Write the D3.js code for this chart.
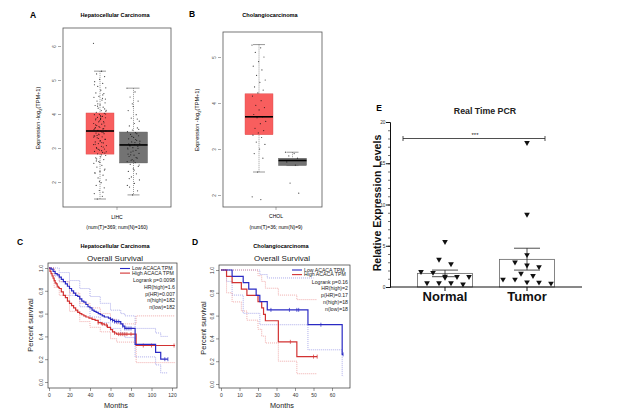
<!DOCTYPE html>
<html>
<head>
<meta charset="utf-8">
<script src="https://cdn.jsdelivr.net/npm/d3@7"></script>
<style>
  body { margin: 0; background: #fff; }
  svg { display: block; }
  svg text { font-family: "Liberation Sans", Arial, sans-serif; }
</style>
</head>
<body>
<svg id="fig" width="631" height="414"></svg>
<script>
/*** DATA ***/

// A / B : GEPIA box plots (tumor vs normal)
const boxGroups = ["Tumor", "Normal"];

const aQ1 = [2.82, 2.56];
const aMed = [3.5, 3.09];
const aQ3 = [4.03, 3.47];
const aLo = [1.5, 1.62];
const aHi = [5.26, 4.76];
const aTicks = [2, 3, 4, 5, 6];
const aTumorPts = [6.08, 5.26, 5.18, 5.1, 5.02, 4.95, 4.9, 4.81, 4.77, 4.7, 4.62, 4.6, 4.52, 4.49, 4.41, 4.38, 4.33, 4.27, 4.25, 4.2,
  4.17, 4.11, 4.1, 4.05, 4.02, 3.99, 3.98, 3.93, 3.9, 3.89, 3.84, 3.83, 3.78, 3.77, 3.72, 3.7, 3.66, 3.65, 3.61, 3.58,
  3.56, 3.52, 3.5, 3.49, 3.44, 3.42, 3.39, 3.36, 3.33, 3.3, 3.25, 3.22, 3.18, 3.15, 3.13, 3.07, 3.05, 3.01, 2.97, 2.94,
  2.9, 2.87, 2.83, 2.78, 2.74, 2.71, 2.66, 2.6, 2.55, 2.49, 2.44, 2.38, 2.31, 2.25, 2.2, 2.12, 2.06, 1.98, 1.9, 1.83,
  1.75, 1.66, 1.58, 1.5, 4.44, 3.95, 3.6, 3.47, 3.28, 3.1, 2.92, 2.68, 4.15, 3.8, 3.35,
  4.56, 4.3, 4.08, 3.92, 3.86, 3.74, 3.63, 3.54, 3.46, 3.37, 3.26, 3.2, 3.11, 3.03, 2.96, 2.89, 2.8, 2.62, 2.35, 2.02,
  4.86, 4.46, 4.23, 4.0, 3.87, 3.68, 3.57, 3.41, 3.32, 3.16, 2.99, 2.85, 2.58, 2.28, 1.7];
const aNormalPts = [4.76, 4.65, 4.5, 4.38, 4.22, 4.1, 3.98, 3.88, 3.79, 3.72, 3.65, 3.59, 3.53, 3.48, 3.45, 3.4, 3.36, 3.31, 3.27, 3.22,
  3.18, 3.14, 3.1, 3.08, 3.05, 3.01, 2.97, 2.93, 2.88, 2.84, 2.79, 2.75, 2.7, 2.66, 2.6, 2.57, 2.52, 2.46, 2.39, 2.31,
  2.24, 2.15, 2.06, 1.96, 1.85, 1.74, 1.62, 3.0, 3.25, 2.8, 3.55, 2.62, 3.12,
  3.42, 3.34, 3.2, 3.16, 3.06, 2.99, 2.91, 2.82, 2.72, 2.64, 2.5, 2.35, 2.1, 3.85, 4.3, 1.9];

const bQ1 = [3.31, 2.64];
const bMed = [3.7, 2.75];
const bQ3 = [4.2, 2.8];
const bLo = [2.5, 2.64];
const bHi = [5.27, 2.93];
const bTicks = [2, 3, 4, 5];
const bTumorPts = [5.26, 5.2, 5.1, 5.0, 4.9, 4.8, 4.72, 4.6, 4.5, 4.45, 4.35, 4.28, 4.22, 4.15, 4.05, 3.95, 3.9, 3.85,
  3.75, 3.7, 3.68, 3.6, 3.55, 3.45, 3.4, 3.35, 3.3, 3.25, 3.15, 3.1, 3.0, 2.9, 2.8, 2.5, 1.96, 1.9];
const bNormalPts = [2.93, 2.9, 2.85, 2.8, 2.75, 2.72, 2.65, 2.26, 2.04];

// C : Kaplan-Meier, hepatocellular carcinoma  [month, survival]
const cLow = [[0, 1], [2, 0.99], [4, 0.97], [6, 0.95], [8, 0.94], [10, 0.92], [12, 0.9], [14, 0.88], [16, 0.86], [18, 0.84],
  [20, 0.82], [22, 0.8], [24, 0.78], [26, 0.76], [28, 0.75], [30, 0.73], [32, 0.71], [34, 0.7], [36, 0.68], [38, 0.66],
  [40, 0.65], [42, 0.63], [44, 0.62], [46, 0.61], [48, 0.6], [50, 0.59], [52, 0.58], [54, 0.57], [58, 0.56], [60, 0.55],
  [62, 0.54], [64, 0.53], [68, 0.53], [70, 0.51], [72, 0.49], [74, 0.47], [84, 0.33], [104, 0.26], [109, 0.2], [116, 0.2]];
const cHigh = [[0, 1], [1, 0.97], [2, 0.95], [3, 0.93], [4, 0.91], [5, 0.89], [6, 0.87], [7, 0.86], [8, 0.84], [9, 0.83],
  [10, 0.82], [12, 0.79], [14, 0.76], [16, 0.74], [18, 0.71], [20, 0.69], [22, 0.67], [24, 0.65], [26, 0.63], [28, 0.61],
  [30, 0.6], [32, 0.59], [34, 0.58], [36, 0.57], [39, 0.56], [42, 0.55], [45, 0.54], [48, 0.52], [51, 0.51], [54, 0.5],
  [57, 0.48], [60, 0.46], [62, 0.44], [64, 0.43], [66, 0.42], [85, 0.32], [123, 0.32]];
const cLowUp = [[0, 1], [5, 1], [10, 0.96], [20, 0.89], [30, 0.82], [40, 0.75], [50, 0.69], [60, 0.63], [70, 0.6],
  [74, 0.58], [84, 0.47], [104, 0.43], [109, 0.4], [116, 0.4]];
const cLowDn = [[0, 1], [5, 0.93], [10, 0.88], [20, 0.76], [30, 0.66], [40, 0.57], [50, 0.52], [60, 0.47], [70, 0.43],
  [74, 0.39], [84, 0.22], [104, 0.15], [109, 0.08], [116, 0.08]];
const cHighUp = [[0, 1], [5, 0.95], [10, 0.88], [20, 0.78], [30, 0.69], [40, 0.65], [50, 0.6], [60, 0.55], [66, 0.51],
  [85, 0.58], [123, 0.58]];
const cHighDn = [[0, 1], [5, 0.83], [10, 0.76], [20, 0.62], [30, 0.53], [40, 0.48], [50, 0.44], [60, 0.38], [66, 0.35],
  [85, 0.17], [123, 0.17]];
const cLowCens = [60, 62, 64, 66, 68, 72, 74, 76, 78, 80, 113, 116];
const cHighCens = [48, 52, 56, 64, 68, 70, 72, 74, 76, 80, 92, 100, 122];
const cStats = ["Logrank p=0.0098", "HR(high)=1.6", "p(HR)=0.007", "n(high)=182", "n(low)=182"];

// D : Kaplan-Meier, cholangiocarcinoma
const dLow = [[0, 1], [6, 0.944], [12, 0.889], [15, 0.833], [19, 0.778], [21, 0.722], [25, 0.65], [47, 0.52], [65.5, 0.26], [66, 0.26]];
const dHigh = [[0, 1], [3, 0.944], [6, 0.889], [11, 0.833], [14, 0.778], [20, 0.722], [22, 0.667], [23, 0.611], [24, 0.555],
  [31, 0.37], [41, 0.24], [52, 0.24]];
const dLowUp = [[0, 1], [19, 1], [21, 0.96], [25, 0.93], [50, 0.93]];
const dLowDn = [[0, 1], [3, 0.9], [6, 0.78], [12, 0.62], [21, 0.52], [47, 0.3], [65.5, 0.07], [66, 0.07]];
const dHighUp = [[0, 1], [14, 1], [20, 0.95], [22, 0.9], [24, 0.84], [31, 0.78], [41, 0.74], [52, 0.74]];
const dHighDn = [[0, 1], [3, 0.8], [6, 0.72], [11, 0.64], [14, 0.56], [20, 0.48], [22, 0.42], [24, 0.36], [31, 0.2],
  [41, 0.09], [52, 0.09]];
const dLowCens = [27, 37, 41, 42, 54, 66];
const dHighCens = [37.5, 50, 52];
const dStats = ["Logrank p=0.16", "HR(high)=2", "p(HR)=0.17", "n(high)=18", "n(low)=18"];

const survLegend = ["Low ACACA TPM", "High ACACA TPM"];

// E : real time PCR
const pcrGroups = ["Normal", "Tumor"];
const pcrNormal = [5.5, 3.35, 2.8, 1.85, 1.75, 1.3, 1.25, 1.25, 1.15, 0.5, 0.5, 0.5, 0.35];
const pcrTumor = [17.5, 8.8, 3.9, 3.0, 2.65, 2.45, 1.65, 1.37, 0.93, 0.93, 0.6, 0.57, 0.45];
const pcrMean = [1.65, 3.35];
const pcrErrLo = [1.25, 2.05];
const pcrErrHi = [2.05, 4.7];
const pcrTicks = [0, 5, 10, 15, 20];
const pcrSig = 18;


/*** DRAWING ***/
const svg = d3.select("#fig");
const BLUE = "#2a2ac4", RED = "#d23232";

function txt(s, x, y, size, o) {
  o = o || {};
  const t = svg.append("text")
    .attr("x", x).attr("y", y)
    .attr("font-size", size)
    .attr("text-anchor", o.anchor || "middle")
    .attr("fill", o.fill || "#000")
    .text(s);
  if (o.bold) t.attr("font-weight", "bold");
  if (o.rot) t.attr("transform", "rotate(-90," + x + "," + y + ")");
  return t;
}

// y label with subscript 2 (log2)
function exprLabel(x, y) {
  const t = svg.append("text").attr("font-size", 5.6).attr("text-anchor", "middle")
    .attr("transform", "translate(" + x + "," + y + ") rotate(-90)");
  t.append("tspan").text("Expression -log");
  t.append("tspan").attr("font-size", 4).attr("dy", 1.5).text("2");
  t.append("tspan").attr("dy", -1.5).text("(TPM+1)");
}

// panel letters
txt("A", 33, 18, 8.5, { bold: true });
txt("B", 192, 17, 8.5, { bold: true });
txt("C", 20, 245, 8.5, { bold: true });
txt("D", 195, 245, 8.5, { bold: true });
txt("E", 379, 111, 8.5, { bold: true });

/*** box plot panels ***/
function boxPanel(c) {
  const y = d3.scaleLinear().domain(c.ydom).range(c.yrng);
  const x = d3.scalePoint().domain(boxGroups).range(c.xrng);
  const g = svg.append("g");

  g.append("rect")
    .attr("x", c.frame[0]).attr("y", c.frame[1])
    .attr("width", c.frame[2] - c.frame[0]).attr("height", c.frame[3] - c.frame[1])
    .attr("fill", "none").attr("stroke", "#555").attr("stroke-width", 0.8);

  const ax = g.append("g")
    .attr("transform", "translate(" + (c.frame[0] - 2) + ",0)")
    .call(d3.axisLeft(y).tickValues(c.ticks).tickSize(3).tickFormat(d3.format("d")));
  ax.select(".domain").remove();
  ax.selectAll("line").attr("stroke", "#555").attr("stroke-width", 0.5);
  ax.selectAll("text").attr("x", null).attr("dy", null)
    .attr("text-anchor", "middle").attr("transform", "translate(-5,0) rotate(-90)")
    .attr("font-size", 4.5).attr("fill", "#444");

  // x tick
  const mid = c.xtick;
  g.append("line").attr("x1", mid).attr("x2", mid).attr("y1", c.frame[3]).attr("y2", c.frame[3] + 3)
    .attr("stroke", "#555").attr("stroke-width", 0.5);

  boxGroups.forEach((grp, i) => {
    const cx = x(grp), w = c.boxW;
    const wh = g.append("g").attr("stroke", "#333").attr("stroke-width", 0.5);
    wh.append("line").attr("x1", cx).attr("x2", cx).attr("y1", y(c.hi[i])).attr("y2", y(c.q3[i])).attr("stroke-dasharray", "1,1");
    wh.append("line").attr("x1", cx).attr("x2", cx).attr("y1", y(c.q1[i])).attr("y2", y(c.lo[i])).attr("stroke-dasharray", "1,1");
    wh.append("line").attr("x1", cx - 6).attr("x2", cx + 6).attr("y1", y(c.hi[i])).attr("y2", y(c.hi[i]));
    wh.append("line").attr("x1", cx - 6).attr("x2", cx + 6).attr("y1", y(c.lo[i])).attr("y2", y(c.lo[i]));

    g.append("rect")
      .attr("x", cx - w / 2).attr("y", y(c.q3[i]))
      .attr("width", w).attr("height", y(c.q1[i]) - y(c.q3[i]))
      .attr("fill", i === 0 ? "#f85e5e" : "#737373")
      .attr("stroke", i === 0 ? "#d84a4a" : "#5a5a5a").attr("stroke-width", 0.4);

    // jittered samples
    g.selectAll(null).data(c.pts[i]).enter().append("circle")
      .attr("cx", (d, k) => cx + (((k * 0.618034) % 1) - 0.5) * c.jit)
      .attr("cy", d => y(d))
      .attr("r", 0.6)
      .attr("fill", "#111").attr("opacity", 0.8);

    g.append("line")
      .attr("x1", cx - w / 2).attr("x2", cx + w / 2)
      .attr("y1", y(c.med[i])).attr("y2", y(c.med[i]))
      .attr("stroke", "#000").attr("stroke-width", 1.6);
  });
}

boxPanel({
  frame: [63, 28, 171, 207], ydom: [2, 6], yrng: [182, 46], xrng: [100, 133.5], xtick: 117,
  ticks: aTicks, boxW: 28, jit: 13,
  q1: aQ1, med: aMed, q3: aQ3, lo: aLo, hi: aHi, pts: [aTumorPts, aNormalPts]
});
txt("Hepatocellular Carcinoma", 115, 17, 5.6, { bold: true });
exprLabel(40, 118);
txt("LIHC", 117, 219, 5);
txt("(num(T)=369; num(N)=160)", 117, 229, 5);

boxPanel({
  frame: [223, 32, 322, 207], ydom: [2, 5], yrng: [195, 57], xrng: [259, 292.5], xtick: 276,
  ticks: bTicks, boxW: 28, jit: 14,
  q1: bQ1, med: bMed, q3: bQ3, lo: bLo, hi: bHi, pts: [bTumorPts, bNormalPts]
});
txt("Cholangiocarcinoma", 270, 17, 5.6, { bold: true });
exprLabel(199, 120);
txt("CHOL", 276, 218, 5);
txt("(num(T)=36; num(N)=9)", 276, 229, 5);

/*** survival panels ***/
function survPanel(c) {
  const x = d3.scaleLinear().domain(c.xdom).range(c.xrng);
  const y = d3.scaleLinear().domain([0, 1]).range(c.yrng);
  const g = svg.append("g");

  g.append("rect")
    .attr("x", c.frame[0]).attr("y", c.frame[1])
    .attr("width", c.frame[2] - c.frame[0]).attr("height", c.frame[3] - c.frame[1])
    .attr("fill", "none").attr("stroke", "#333").attr("stroke-width", 0.7);

  const ay = g.append("g").attr("transform", "translate(" + c.frame[0] + ",0)")
    .call(d3.axisLeft(y).tickValues([0, 0.2, 0.4, 0.6, 0.8, 1]).tickSize(3).tickFormat(d3.format(".1f")));
  ay.select(".domain").remove();
  ay.selectAll("line").attr("stroke", "#333").attr("stroke-width", 0.5);
  ay.selectAll("text").attr("x", null).attr("dy", null)
    .attr("text-anchor", "middle").attr("transform", "translate(-5,0) rotate(-90)")
    .attr("font-size", 5).attr("fill", "#333");

  const axb = g.append("g").attr("transform", "translate(0," + c.frame[3] + ")")
    .call(d3.axisBottom(x).tickValues(c.xticks).tickSize(3).tickFormat(d3.format("d")));
  axb.select(".domain").remove();
  axb.selectAll("line").attr("stroke", "#333").attr("stroke-width", 0.5);
  axb.selectAll("text").attr("y", 5).attr("font-size", 5).attr("fill", "#333");

  const line = d3.line().x(d => x(d[0])).y(d => y(d[1])).curve(d3.curveStepAfter);

  const ci = [[c.lowUp, "#8a8ae2"], [c.lowDn, "#8a8ae2"], [c.highUp, "#ea8a8a"], [c.highDn, "#ea8a8a"]];
  ci.forEach(([d, col]) => {
    g.append("path").attr("d", line(d)).attr("fill", "none")
      .attr("stroke", col).attr("stroke-width", 0.7).attr("stroke-dasharray", "1,1");
  });

  [[c.high, RED, c.highCens], [c.low, BLUE, c.lowCens]].forEach(([d, col, cens]) => {
    g.append("path").attr("d", line(d)).attr("fill", "none")
      .attr("stroke", col).attr("stroke-width", 1.2);
    const bis = d3.bisector(p => p[0]).right;
    g.selectAll(null).data(cens).enter().append("line")
      .attr("x1", t => x(t)).attr("x2", t => x(t))
      .attr("y1", t => y(d[Math.max(0, bis(d, t) - 1)][1]) - 2)
      .attr("y2", t => y(d[Math.max(0, bis(d, t) - 1)][1]) + 2)
      .attr("stroke", col).attr("stroke-width", 0.7);
  });

  // legend
  [BLUE, RED].forEach((col, i) => {
    g.append("line").attr("x1", c.leg[0]).attr("x2", c.leg[0] + 10)
      .attr("y1", c.leg[1] + i * 4.6).attr("y2", c.leg[1] + i * 4.6)
      .attr("stroke", col).attr("stroke-width", 1.1);
    txt(survLegend[i], c.leg[0] + 12, c.leg[1] + i * 4.6 + 1.8, 5.2, { anchor: "start", fill: "#222" });
  });
  c.stats.forEach((s, i) => {
    txt(s, c.frame[2] - 2, c.leg[1] + 13.5 + i * 6.8, 5.2, { anchor: "end", fill: "#222" });
  });
}

survPanel({
  frame: [48, 263, 177, 388], xdom: [0, 120], xrng: [49, 172], yrng: [382, 268],
  xticks: [0, 20, 40, 60, 80, 100, 120],
  low: cLow, high: cHigh, lowUp: cLowUp, lowDn: cLowDn, highUp: cHighUp, highDn: cHighDn,
  lowCens: cLowCens, highCens: cHighCens, stats: cStats, leg: [120, 268.5]
});
txt("Hepatocellular Carcinoma", 115, 248, 5.6, { bold: true });
txt("Overall Survival", 115, 261, 8, { fill: "#222" });
txt("Months", 116, 408, 7.3, { fill: "#222" });
txt("Percent survival", 33, 325, 7.5, { rot: true, fill: "#222" });

survPanel({
  frame: [219, 265, 350, 388], xdom: [0, 60], xrng: [221, 332], yrng: [384, 270],
  xticks: [0, 10, 20, 30, 40, 50, 60],
  low: dLow, high: dHigh, lowUp: dLowUp, lowDn: dLowDn, highUp: dHighUp, highDn: dHighDn,
  lowCens: dLowCens, highCens: dHighCens, stats: dStats, leg: [292, 270]
});
txt("Cholangiocarcinoma", 281, 248, 5.6, { bold: true });
txt("Overall Survival", 282, 261, 8, { fill: "#222" });
txt("Months", 282, 408, 7.3, { fill: "#222" });
txt("Percent survival", 206, 328, 7.5, { rot: true, fill: "#222" });

/*** E : real time PCR ***/
(function () {
  const y = d3.scaleLinear().domain([0, 20]).range([287, 122]);
  const x = d3.scalePoint().domain(pcrGroups).range([445, 527]);
  const g = svg.append("g");
  const barW = 55;

  // bars (mean) with SEM
  pcrGroups.forEach((grp, i) => {
    const cx = x(grp);
    g.append("rect").attr("x", cx - barW / 2).attr("y", y(pcrMean[i]))
      .attr("width", barW).attr("height", y(0) - y(pcrMean[i]))
      .attr("fill", "none").attr("stroke", "#666").attr("stroke-width", 0.8);
    g.append("line").attr("x1", cx).attr("x2", cx).attr("y1", y(pcrErrLo[i])).attr("y2", y(pcrErrHi[i]))
      .attr("stroke", "#222").attr("stroke-width", 0.8);
    [pcrErrLo[i], pcrErrHi[i]].forEach(v => {
      g.append("line").attr("x1", cx - 13).attr("x2", cx + 13).attr("y1", y(v)).attr("y2", y(v))
        .attr("stroke", "#222").attr("stroke-width", 0.8);
    });
  });

  // scatter points, packed in rows
  const tri = d3.symbol().type(d3.symbolTriangle).size(14);
  [pcrNormal, pcrTumor].forEach((vals, gi) => {
    const cx = x(pcrGroups[gi]);
    const sorted = vals.slice().sort((a, b) => b - a);
    const rows = [];
    sorted.forEach(v => {
      const r = rows[rows.length - 1];
      if (r && y(v) - y(r[0]) < 5 && r.length < 5) r.push(v); else rows.push([v]);
    });
    rows.forEach(r => {
      r.forEach((v, k) => {
        const px = cx + (k - (r.length - 1) / 2) * 12;
        g.append("path").attr("d", tri)
          .attr("transform", "translate(" + px + "," + y(v) + ") rotate(180)")
          .attr("fill", "#111");
      });
    });
  });

  // axes
  const ay = g.append("g").attr("transform", "translate(390,0)")
    .call(d3.axisLeft(y).tickValues(pcrTicks).tickSize(4));
  ay.select(".domain").attr("stroke", "#111");
  ay.selectAll("line").attr("stroke", "#111");
  ay.selectAll("text").attr("x", -4.5).attr("font-size", 4.8).attr("fill", "#333");
  const am = g.append("g").attr("transform", "translate(390,0)")
    .call(d3.axisLeft(y).tickValues(d3.range(0, 21)).tickSize(2).tickFormat(""));
  am.select(".domain").remove();
  am.selectAll("line").attr("stroke", "#111").attr("stroke-width", 0.6);

  g.append("line").attr("x1", 390).attr("x2", 582).attr("y1", y(0)).attr("y2", y(0))
    .attr("stroke", "#111").attr("stroke-width", 1);
  pcrGroups.forEach(grp => {
    g.append("line").attr("x1", x(grp)).attr("x2", x(grp)).attr("y1", y(0)).attr("y2", y(0) + 4)
      .attr("stroke", "#111").attr("stroke-width", 1);
    txt(grp, x(grp), 301, 13, { bold: true, fill: "#111" });
  });

  // significance bracket
  g.append("line").attr("x1", 403).attr("x2", 545).attr("y1", y(pcrSig)).attr("y2", y(pcrSig))
    .attr("stroke", "#222").attr("stroke-width", 0.8);
  [403, 545].forEach(px => {
    g.append("line").attr("x1", px).attr("x2", px).attr("y1", y(pcrSig) - 2.5).attr("y2", y(pcrSig) + 2.5)
      .attr("stroke", "#222").attr("stroke-width", 0.8);
  });
  txt("***", 475, y(pcrSig) - 1.5, 6, { fill: "#222" });

  txt("Real Time PCR", 485, 114, 8.8, { bold: true, fill: "#222" });
  txt("Relative Expression Levels", 381, 203, 10.6, { bold: true, rot: true, fill: "#111" });
})();
</script>
</body>
</html>
